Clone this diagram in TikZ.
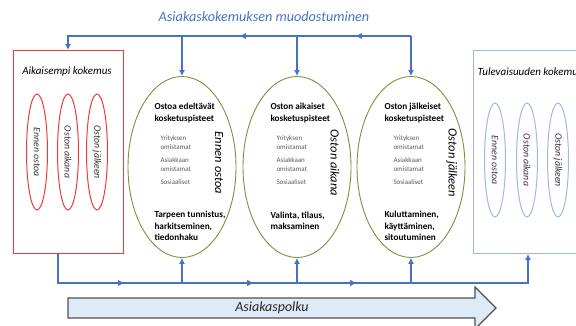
\documentclass[tikz,border=0pt]{standalone}
\usepackage{fontspec}
\setmainfont{Carlito}
\usetikzlibrary{shapes.geometric,arrows.meta,decorations.markings}
\definecolor{flowblue}{HTML}{4472C4}
\definecolor{phasegreen}{HTML}{77933C}
\definecolor{pastred}{HTML}{F23A3A}
\definecolor{futureblue}{HTML}{9DB9E3}
\definecolor{pathfill}{HTML}{DEEAF6}
\definecolor{pathline}{HTML}{505050}
\definecolor{touchgray}{HTML}{595959}
\tikzset{
  flow/.style={draw=flowblue, line width=1.8pt, -{Latex[length=6pt,width=6pt]}},
  midarrow/.style={postaction={decorate},
    decoration={markings, mark=at position #1 with {\arrow{Latex[length=6pt,width=6pt]}}}},
  phase/.style={ellipse, draw=phasegreen, line width=0.9pt, inner sep=0pt,
    minimum width=108pt, minimum height=181pt},
  framebox/.style={rectangle, line width=1pt, inner sep=0pt,
    minimum width=110pt, minimum height=203pt},
  mini/.style={ellipse, line width=1pt, inner sep=0pt,
    minimum width=21pt, minimum height=116pt},
  minilabel/.style={rotate=-90, font=\fontsize{9.8}{11}\selectfont\itshape, text=black!80},
  phaselabel/.style={rotate=-90, font=\fontsize{12.5}{14}\selectfont\itshape},
  heading/.style={anchor=north west, align=left, font=\fontsize{9.2}{11.5}\selectfont\bfseries},
  touch/.style={anchor=north west, align=left, text=touchgray, font=\fontsize{7}{9.5}\selectfont},
}
\begin{document}
\begin{tikzpicture}[x=1pt,y=-1pt]
\useasboundingbox (0,0) rectangle (576,326);

% title of the upper feedback loop
\node[text=flowblue, font=\fontsize{14.2}{16}\selectfont\itshape] (title) at (264,17) {Asiakaskokemuksen muodostuminen};

% earlier experience
\node[framebox, draw=pastred] (past) at (68,152) {};
\node[font=\fontsize{11}{12}\selectfont\itshape] (pasttitle) at (67,72) {Aikaisempi kokemus};
\node[mini, draw=pastred] (p1) at (37,152) {};
\node[mini, draw=pastred] (p2) at (68,152) {};
\node[mini, draw=pastred] (p3) at (97,152) {};
\node[minilabel] (p1t) at (p1) {Ennen ostoa};
\node[minilabel] (p2t) at (p2) {Oston aikana};
\node[minilabel] (p3t) at (p3) {Oston jälkeen};

% future experience (box runs past the right edge)
\node[framebox, draw=futureblue] (future) at (528,152) {};
\node[font=\fontsize{11}{12}\selectfont\itshape, anchor=west] (futuretitle) at (474,72) {Tulevaisuuden kokemus};
\node[mini, draw=futureblue, minimum height=114pt] (f1) at (495,160) {};
\node[mini, draw=futureblue, minimum height=114pt] (f2) at (527,160) {};
\node[mini, draw=futureblue, minimum height=114pt] (f3) at (558,160) {};
\node[minilabel] (f1t) at (f1) {Ennen ostoa};
\node[minilabel] (f2t) at (f2) {Oston aikana};
\node[minilabel] (f3t) at (f3) {Oston jälkeen};

% three purchase phases
\node[phase] (e1) at (182,167) {};
\node[phase] (e2) at (297,167) {};
\node[phase] (e3) at (411,167) {};

\node[phaselabel] (e1l) at (219,163) {Ennen ostoa};
\node[phaselabel] (e2l) at (335,163) {Oston aikana};
\node[phaselabel] (e3l) at (452,163) {Oston jälkeen};

\node[heading] (e1h) at (151,100) {Ostoa edeltävät\\kosketuspisteet};
\node[heading] (e2h) at (267,100) {Oston aikaiset\\kosketuspisteet};
\node[heading] (e3h) at (381,100) {Oston jälkeiset\\kosketuspisteet};

\node[touch] (e1a) at (157,132) {Yrityksen\\omistamat\\[3pt]Asiakkaan\\omistamat\\[3pt]Sosiaaliset};
\node[touch] (e2a) at (273,132) {Yrityksen\\omistamat\\[3pt]Asiakkaan\\omistamat\\[3pt]Sosiaaliset};
\node[touch] (e3a) at (390,132) {Yrityksen\\omistamat\\[3pt]Asiakkaan\\omistamat\\[3pt]Sosiaaliset};

\node[heading] (e1b) at (151,208) {Tarpeen tunnistus,\\harkitseminen,\\tiedonhaku};
\node[heading] (e2b) at (267,208) {Valinta, tilaus,\\maksaminen};
\node[heading] (e3b) at (381,208) {Kuluttaminen,\\käyttäminen,\\sitoutuminen};

% upper loop: phases feed the experience
\coordinate (topr) at (411,36);
\coordinate (topl) at (68,36);
\draw[flow, midarrow=0.155, midarrow=0.48] (topr) -- (topl) -- (past.north);
\draw[flow] (e1.north |- topl) -- (e1.north);
\draw[flow] (e2.north |- topl) -- (e2.north);
\draw[flow] (e3.north |- topl) -- (e3.north);

% lower loop: earlier experience towards the future
\coordinate (botl) at (58,283);
\coordinate (botr) at (528,283);
\draw[flow, midarrow=0.18, midarrow=0.425, midarrow=0.62] (past.south -| botl) -- (botl) -- (botr) -- (future.south);
\draw[flow] (e1.south |- botl) -- (e1.south);
\draw[flow] (e2.south |- botl) -- (e2.south);
\draw[flow] (e3.south |- botl) -- (e3.south);

% customer path arrow
\draw[fill=pathfill, draw=pathline, line width=1.1pt]
  (68,298) -- (475,298) -- (475,287) -- (496,308) -- (475,329) -- (475,318) -- (68,318) -- cycle;
\node[font=\fontsize{14}{16}\selectfont\itshape, text=black!85] (pathlabel) at (272,308) {Asiakaspolku};
\end{tikzpicture}
\end{document}
